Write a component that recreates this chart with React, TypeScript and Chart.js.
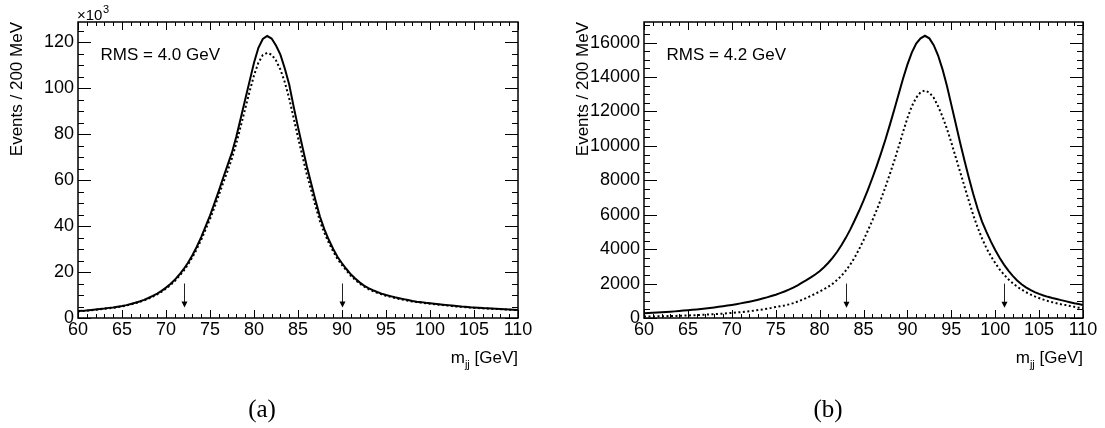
import React, { useEffect, useRef } from "react";
import { Chart, registerables } from "chart.js";
Chart.register(...registerables);

const SANS = "'Liberation Sans', Arial, Helvetica, sans-serif";
const SERIF = "'Liberation Serif', 'Times New Roman', serif";

// m_jj sample positions [GeV]
const massPoints = [
  60, 60.5, 61, 61.5, 62, 62.5, 63, 63.5, 64, 64.5,
  65, 65.5, 66, 66.5, 67, 67.5, 68, 68.5, 69, 69.5,
  70, 70.5, 71, 71.5, 72, 72.5, 73, 73.5, 74, 74.5,
  75, 75.5, 76, 76.5, 77, 77.5, 78, 78.5, 79, 79.5,
  80, 80.5, 81, 81.5, 82, 82.5, 83, 83.5, 84, 84.5,
  85, 85.5, 86, 86.5, 87, 87.5, 88, 88.5, 89, 89.5,
  90, 90.5, 91, 91.5, 92, 92.5, 93, 93.5, 94, 94.5,
  95, 95.5, 96, 96.5, 97, 97.5, 98, 98.5, 99, 99.5,
  100, 100.5, 101, 101.5, 102, 102.5, 103, 103.5, 104, 104.5,
  105, 105.5, 106, 106.5, 107, 107.5, 108, 108.5, 109, 109.5,
  110,
];

// Panel (a): events / 200 MeV in units of 10^3
const solidA = [
  3.0, 3.1, 3.3, 3.5, 3.7, 3.9, 4.1, 4.4, 4.6, 4.9,
  5.2, 5.6, 6.1, 6.6, 7.2, 7.9, 8.7, 9.6, 10.6, 11.8,
  13.2, 14.8, 16.6, 18.8, 21.2, 24.0, 27.3, 31.0, 35.2, 39.8,
  44.5, 49.8, 55.3, 61.0, 66.5, 72.0, 79.0, 87.0, 95.0, 103.0,
  111.0, 117.5, 121.3, 122.6, 121.5, 118.5, 114.5, 108.5, 101.5, 92.0,
  83.0, 74.5, 66.0, 58.5, 51.0, 44.0, 38.5, 34.0, 30.0, 26.5,
  23.8, 21.3, 19.0, 17.2, 15.5, 14.1, 13.0, 12.1, 11.3, 10.6,
  10.0, 9.5, 9.0, 8.6, 8.2, 7.8, 7.4, 7.1, 6.9, 6.6,
  6.4, 6.2, 6.0, 5.8, 5.6, 5.4, 5.2, 5.0, 4.9, 4.7,
  4.6, 4.5, 4.3, 4.2, 4.1, 4.0, 3.9, 3.8, 3.7, 3.6,
  3.5,
];
const dottedA = [
  2.9, 3.0, 3.2, 3.4, 3.6, 3.8, 4.0, 4.2, 4.4, 4.7,
  5.0, 5.4, 5.9, 6.4, 7.0, 7.6, 8.4, 9.3, 10.3, 11.4,
  12.8, 14.3, 16.1, 18.2, 20.5, 23.3, 26.4, 30.0, 34.0, 38.5,
  43.0, 48.0, 53.3, 58.8, 64.0, 69.5, 76.0, 83.5, 91.0, 98.5,
  105.5, 111.0, 114.3, 115.3, 114.5, 112.0, 108.0, 102.5, 95.5, 87.0,
  78.5, 70.5, 62.5, 55.5, 48.5, 42.0, 37.0, 32.7, 28.9, 25.6,
  23.0, 20.6, 18.4, 16.6, 15.0, 13.7, 12.6, 11.7, 10.9, 10.3,
  9.7, 9.2, 8.7, 8.3, 7.9, 7.5, 7.2, 6.9, 6.7, 6.4,
  6.2, 6.0, 5.8, 5.6, 5.4, 5.2, 5.0, 4.9, 4.7, 4.6,
  4.4, 4.3, 4.2, 4.1, 4.0, 3.9, 3.8, 3.7, 3.6, 3.5,
  3.4,
];

// Panel (b): events / 200 MeV
const solidB = [
  270, 285, 300, 315, 330, 345, 365, 385, 405, 430,
  450, 475, 500, 525, 555, 585, 615, 650, 685, 720,
  760, 805, 850, 900, 950, 1005, 1065, 1130, 1200, 1275,
  1355, 1445, 1540, 1645, 1765, 1900, 2050, 2200, 2360, 2530,
  2720, 2950, 3210, 3510, 3850, 4240, 4670, 5150, 5680, 6230,
  6820, 7450, 8120, 8830, 9580, 10370, 11220, 12100, 13000, 13900,
  14720, 15420, 15950, 16250, 16400, 16250, 15850, 15250, 14450, 13500,
  12400, 11300, 10200, 9150, 8150, 7200, 6350, 5600, 5000, 4450,
  3950, 3500, 3100, 2750, 2450, 2180, 1960, 1780, 1630, 1500,
  1400, 1310, 1230, 1160, 1100, 1040, 980, 920, 860, 810,
  760,
];
const dottedB = [
  80, 85, 90, 95, 100, 105, 112, 120, 128, 137,
  147, 157, 168, 180, 193, 207, 222, 238, 256, 275,
  296, 318, 342, 368, 397, 428, 462, 500, 542, 588,
  640, 680, 725, 790, 865, 955, 1055, 1165, 1285, 1410,
  1535, 1670, 1820, 2000, 2210, 2460, 2760, 3110, 3520, 4000,
  4520, 5080, 5660, 6270, 6920, 7620, 8360, 9130, 9940, 10800,
  11620, 12300, 12800, 13120, 13220, 13100, 12800, 12300, 11700, 11000,
  10200, 9350, 8500, 7650, 6800, 5980, 5260, 4620, 4060, 3600,
  3200, 2830, 2520, 2250, 2020, 1820, 1650, 1500, 1370, 1260,
  1160, 1070, 990, 920, 860, 800, 750, 700, 650, 600,
  560,
];

const xMin = 60;
const xMax = 110;
const xMajorTicks = [60, 65, 70, 75, 80, 85, 90, 95, 100, 105, 110];
const xMinorStep = 1;

const yMaxA = 128.7;
const yTicksA = [0, 20, 40, 60, 80, 100, 120];
const yMinorStepA = 5;
const yMaxB = 17200;
const yTicksB = [0, 2000, 4000, 6000, 8000, 10000, 12000, 14000, 16000];
const yMinorStepB = 500;

const arrowsA = [72, 90];
const arrowSpanA = [15, 4.6];
const arrowsB = [83, 101];
const arrowSpanB = [2000, 600];

const rmsA = "RMS = 4.0 GeV";
const rmsB = "RMS = 4.2 GeV";
const yTitle = "Events / 200 MeV";

type PanelCfg = {
  id: string;
  left: number;
  width: number;
  axisWidth: number;
  padRight: number;
  solid: number[];
  dotted: number[];
  yMax: number;
  yTicks: number[];
  yMinorStep: number;
  arrows: number[];
  arrowSpan: number[];
  rms: string;
  label: string;
  labelX: number;
  titleX: number;
  multiplier: boolean;
};

const panels: PanelCfg[] = [
  {
    id: "a", left: 0, width: 552, axisWidth: 78, padRight: 34,
    solid: solidA, dotted: dottedA, yMax: yMaxA, yTicks: yTicksA, yMinorStep: yMinorStepA,
    arrows: arrowsA, arrowSpan: arrowSpanA, rms: rmsA, label: "(a)", labelX: 262, titleX: 17, multiplier: true,
  },
  {
    id: "b", left: 552, width: 553, axisWidth: 92, padRight: 22,
    solid: solidB, dotted: dottedB, yMax: yMaxB, yTicks: yTicksB, yMinorStep: yMinorStepB,
    arrows: arrowsB, arrowSpan: arrowSpanB, rms: rmsB, label: "(b)", labelX: 276, titleX: 31, multiplier: false,
  },
];

function decorPlugin(p: PanelCfg) {
  return {
    id: "decor" + p.id,
    afterDatasetsDraw(chart: any) {
      const { ctx, chartArea: ca, scales } = chart;
      const xs = scales.x;
      const ys = scales.y;
      ctx.save();
      ctx.strokeStyle = "#000";
      ctx.lineWidth = 1;
      ctx.beginPath();
      for (let v = xMin; v <= xMax + 1e-9; v += xMinorStep) {
        const px = Math.round(xs.getPixelForValue(v)) + 0.5;
        const len = xMajorTicks.includes(v) ? 8 : 4;
        ctx.moveTo(px, ca.bottom);
        ctx.lineTo(px, ca.bottom - len);
        ctx.moveTo(px, ca.top);
        ctx.lineTo(px, ca.top + len);
      }
      const nMinor = Math.floor(p.yMax / p.yMinorStep + 1e-9);
      for (let k = 0; k <= nMinor; k++) {
        const v = k * p.yMinorStep;
        const py = Math.round(ys.getPixelForValue(v)) + 0.5;
        const major = p.yTicks.some((t) => Math.abs(t - v) < 1e-6);
        const len = major ? 13 : 6;
        ctx.moveTo(ca.left, py);
        ctx.lineTo(ca.left + len, py);
        ctx.moveTo(ca.right, py);
        ctx.lineTo(ca.right - len, py);
      }
      ctx.stroke();

      ctx.lineWidth = 1.5;
      ctx.strokeRect(ca.left, ca.top, ca.right - ca.left, ca.bottom - ca.top);

      // arrows
      ctx.lineWidth = 1;
      ctx.strokeStyle = "#222";
      ctx.fillStyle = "#000";
      for (const m of p.arrows) {
        const px = Math.round(xs.getPixelForValue(m)) + 0.5;
        const y0 = ys.getPixelForValue(p.arrowSpan[0]);
        const y1 = ys.getPixelForValue(p.arrowSpan[1]);
        ctx.beginPath();
        ctx.moveTo(px, y0);
        ctx.lineTo(px, y1 - 5);
        ctx.stroke();
        ctx.beginPath();
        ctx.moveTo(px - 3, y1 - 6);
        ctx.lineTo(px + 3, y1 - 6);
        ctx.lineTo(px, y1);
        ctx.closePath();
        ctx.fill();
      }

      ctx.fillStyle = "#000";
      // RMS text
      ctx.font = `17px ${SANS}`;
      ctx.textAlign = "left";
      ctx.textBaseline = "alphabetic";
      ctx.fillText(p.rms, ca.left + 22.5, 60);

      // multiplier
      if (p.multiplier) {
        ctx.font = `15px ${SANS}`;
        const t = "\u00d710";
        ctx.fillText(t, ca.left - 1, 20);
        const w = ctx.measureText(t).width;
        ctx.font = `11px ${SANS}`;
        ctx.fillText("3", ca.left - 1 + w + 0.5, 13);
      }

      // x title
      ctx.font = `17px ${SANS}`;
      const wm = ctx.measureText("m").width;
      const rest = " [GeV]";
      const wr = ctx.measureText(rest).width;
      ctx.font = `11px ${SANS}`;
      const wj = ctx.measureText("jj").width;
      const start = ca.right - (wm + wj + wr);
      ctx.font = `17px ${SANS}`;
      ctx.fillText("m", start, 363);
      ctx.fillText(rest, start + wm + wj, 363);
      ctx.font = `11px ${SANS}`;
      ctx.fillText("jj", start + wm, 368);

      // y title
      ctx.save();
      ctx.translate(p.titleX, ca.top);
      ctx.rotate(-Math.PI / 2);
      ctx.font = `17px ${SANS}`;
      ctx.textAlign = "right";
      ctx.textBaseline = "middle";
      ctx.fillText(yTitle, 0, 0);
      ctx.restore();

      // panel label
      ctx.font = `25px ${SERIF}`;
      ctx.textAlign = "center";
      ctx.textBaseline = "alphabetic";
      ctx.fillText(p.label, p.labelX, 417);
      ctx.restore();
    },
  };
}

function Panel({ p }: { p: PanelCfg }) {
  const ref = useRef<HTMLCanvasElement | null>(null);
  useEffect(() => {
    if (!ref.current) return;
    const chart = new Chart(ref.current, {
      type: "line",
      data: {
        datasets: [
          {
            data: massPoints.map((x, i) => ({ x, y: p.solid[i] })),
            borderColor: "#000",
            borderWidth: 2,
            pointRadius: 0,
            tension: 0,
            fill: false,
          },
          {
            data: massPoints.map((x, i) => ({ x, y: p.dotted[i] })),
            borderColor: "#000",
            borderWidth: 2,
            borderDash: [2, 2.5],
            pointRadius: 0,
            tension: 0,
            fill: false,
          },
        ],
      },
      options: {
        responsive: false,
        animation: false,
        events: [],
        layout: { padding: { left: 0, right: p.padRight, top: 22, bottom: 0 } },
        plugins: { legend: { display: false }, tooltip: { enabled: false } },
        scales: {
          x: {
            type: "linear",
            min: xMin,
            max: xMax,
            grid: { display: false, drawTicks: false },
            border: { display: false },
            ticks: {
              color: "#000",
              font: { family: SANS, size: 18 },
              padding: 1,
              autoSkip: false,
              maxRotation: 0,
              callback: (v: any) => String(v),
            },
            afterBuildTicks: (s: any) => {
              s.ticks = xMajorTicks.map((v) => ({ value: v }));
            },
            afterFit: (s: any) => {
              s.height = 110;
            },
          },
          y: {
            type: "linear",
            min: 0,
            max: p.yMax,
            grid: { display: false, drawTicks: false },
            border: { display: false },
            ticks: {
              color: "#000",
              font: { family: SANS, size: 18 },
              padding: 4,
              callback: (v: any) => String(v),
            },
            afterBuildTicks: (s: any) => {
              s.ticks = p.yTicks.map((v) => ({ value: v }));
            },
            afterFit: (s: any) => {
              s.width = p.axisWidth;
            },
          },
        },
      } as any,
      plugins: [decorPlugin(p)],
    });
    return () => chart.destroy();
  }, [p]);
  return (
    <canvas
      ref={ref}
      width={p.width}
      height={428}
      style={{ position: "absolute", left: p.left, top: 0, width: p.width, height: 428 }}
    />
  );
}

export default function App() {
  return (
    <div style={{ position: "absolute", left: 0, top: 0, width: 1105, height: 428, background: "#fff", overflow: "hidden" }}>
      {panels.map((p) => (
        <Panel key={p.id} p={p} />
      ))}
    </div>
  );
}
